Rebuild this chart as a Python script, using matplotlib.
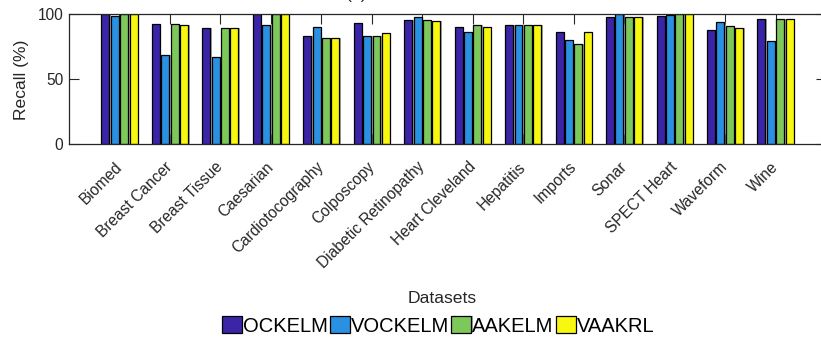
import matplotlib
matplotlib.use("Agg")
import matplotlib.pyplot as plt
import matplotlib.patheffects as pe
import matplotlib.transforms as mtransforms
import numpy as np

plt.rcParams['font.family'] = ['Liberation Sans', 'DejaVu Sans']

datasets = ["Biomed", "Breast Cancer", "Breast Tissue", "Caesarian", "Cardiotocography",
            "Colposcopy", "Diabetic Retinopathy", "Heart Cleveland", "Hepatitis", "Imports",
            "Sonar", "SPECT Heart", "Waveform", "Wine"]
methods = ["OCKELM", "VOCKELM", "AAKELM", "VAAKRL"]

ockelm = [100.0, 92.5, 89.2, 100.0, 83.2, 93.0, 95.4, 90.2, 92.0, 86.1, 98.2, 98.7, 87.6, 96.1]
vockelm = [98.7, 68.6, 66.8, 91.8, 89.9, 83.2, 97.7, 86.3, 92.0, 80.2, 100.0, 99.5, 94.1, 79.4]
aakelm = [100.0, 92.5, 89.2, 100.0, 82.0, 83.2, 95.6, 91.5, 92.0, 77.3, 97.9, 100.0, 90.7, 96.1]
vaakrl = [100.0, 92.0, 89.2, 100.0, 82.0, 85.6, 94.6, 90.2, 92.0, 86.1, 97.9, 100.0, 89.4, 96.1]

series = [ockelm, vockelm, aakelm, vaakrl]
colors = ["#3b24a6", "#2a90e2", "#7dc85a", "#f7f70f"]

axis_gray = "#262626"
W, H = 821, 343
fig = plt.figure(figsize=(W / 100, H / 100), dpi=100)

left_px, right_px, top_px, bottom_px = 69, 826, 14.3, 143.7
ax = fig.add_axes([left_px / W, 1 - bottom_px / H, (right_px - left_px) / W, (bottom_px - top_px) / H])

x = np.arange(1, len(datasets) + 1)
pitch = 0.186
width = 0.158
bar_fx = [pe.SimplePatchShadow(offset=(1.1, 0), shadow_rgbFace="#808080", alpha=0.7), pe.Normal()]
for i, (vals, c, name) in enumerate(zip(series, colors, methods)):
    offs = (i - 1.5) * pitch
    bars = ax.bar(x + offs, vals, width=width, color=c, edgecolor="black", linewidth=0.9,
                  label=name, zorder=2)
    for b in bars:
        b.set_path_effects(bar_fx)

ax.set_xlim(0, 15)
ax.set_ylim(0, 100)
ax.set_yticks([0, 50, 100])
ax.set_xticks(x)
ax.set_xticklabels(datasets, rotation=45, ha="right", va="top", rotation_mode="anchor")

ax.tick_params(axis="both", direction="in", length=7, width=0.8, color=axis_gray,
               labelcolor=axis_gray, labelsize=11.2, top=True, right=True)
ax.tick_params(axis="x", pad=7.5)
ax.tick_params(axis="y", pad=4)
for sp in ax.spines.values():
    sp.set_color(axis_gray)
    sp.set_linewidth(0.9)

# nudge the slanted category labels down and to the left along their slope
shift = mtransforms.ScaledTranslation(-5 / 100, -5 / 100, fig.dpi_scale_trans)
for lbl in ax.get_xticklabels():
    lbl.set_transform(lbl.get_transform() + shift)

fig.text(21.5 / W, 1 - 80 / H, "Recall (%)", rotation=90, ha="center", va="center",
         fontsize=12.6, color=axis_gray)
fig.text(442.5 / W, 1 - 303 / H, "Datasets", ha="center", va="baseline",
         fontsize=12.6, color=axis_gray)
fig.text(357 / W, 1 + 1.5 / H, "(a)", ha="center", va="baseline",
         fontsize=12.6, color=axis_gray)

handles, labels = ax.get_legend_handles_labels()
fig.legend(handles, labels, ncol=4, loc="center", bbox_to_anchor=(438 / W, 1 - 326 / H),
           frameon=False, fontsize=14.5, handlelength=1.0, handleheight=0.9,
           handletextpad=0.05, columnspacing=0.1, borderpad=0.1)

fig.savefig("out.png", dpi=100)
